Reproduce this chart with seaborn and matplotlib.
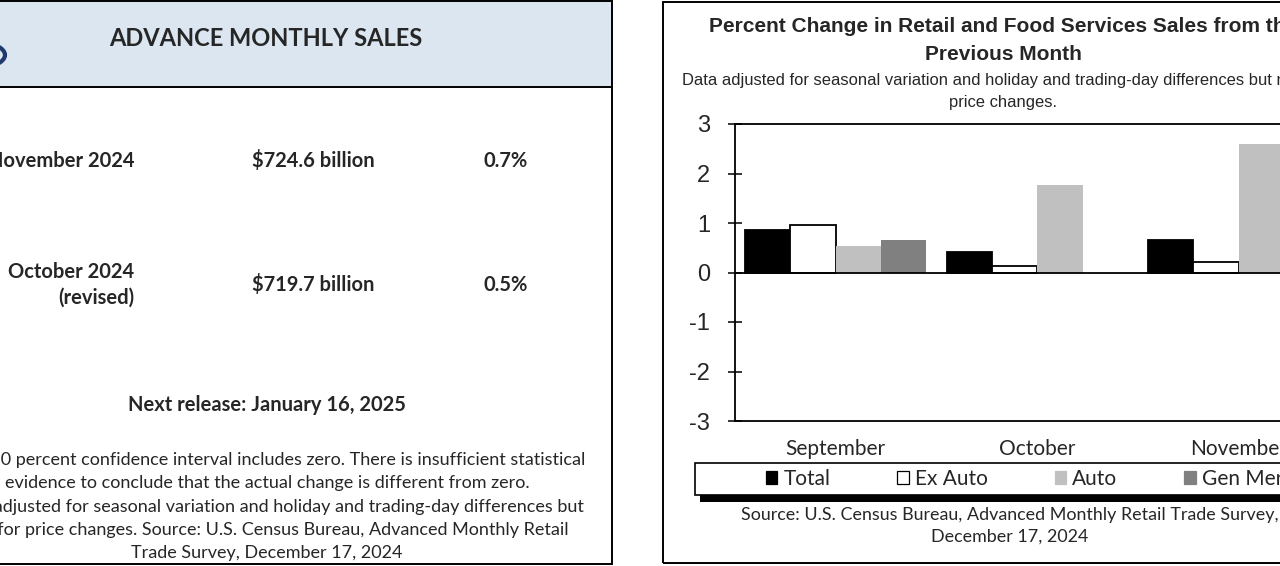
import numpy as np
import pandas as pd
import matplotlib.pyplot as plt
import seaborn as sns
from matplotlib.patches import Rectangle, Circle, Patch

# --- chart data (percent change from previous month) ---
months = ['September', 'October', 'November']
series = ['Total', 'Ex Auto', 'Auto', 'Gen Mer']
total = [0.85, 0.42, 0.66]
ex_auto = [0.95, 0.14, 0.22]
auto = [0.53, 1.77, 2.59]
gen_mer = [0.66, np.nan, -0.2]   # Oct not shown, Nov falls outside the crop
series_colors = ['black', 'white', '#c0c0c0', '#808080']
yticks = [-3, -2, -1, 0, 1, 2, 3]

# --- summary box text ---
box_title = 'ADVANCE MONTHLY SALES'
row_labels = ['November 2024', 'October 2024\n(revised)']
row_sales = ['$724.6 billion', '$719.7 billion']
row_pct = ['0.7%', '0.5%']
next_release = 'Next release: January 16, 2025'
footnote = [
    '*The 90 percent confidence interval includes zero. There is insufficient statistical',
    'evidence to conclude that the actual change is different from zero.',
    'Data adjusted for seasonal variation and holiday and trading-day differences but',
    'not for price changes. Source: U.S. Census Bureau, Advanced Monthly Retail',
    'Trade Survey, December 17, 2024',
]
chart_title = ['Percent Change in Retail and Food Services Sales from the', 'Previous Month']
chart_sub = ['Data adjusted for seasonal variation and holiday and trading-day differences but not for',
             'price changes.']
source = ['Source: U.S. Census Bureau, Advanced Monthly Retail Trade Survey,', 'December 17, 2024']

W, H = 1280, 566


def fx(x):
    return x / W


def fy(y):
    return 1 - y / H


sns.set_style('white')
plt.rcParams['font.family'] = ['Lato', 'DejaVu Sans']

fig = plt.figure(figsize=(W / 100, H / 100), dpi=100)
fig.patch.set_facecolor('white')

# ---------------- left summary panel ----------------
fig.add_artist(Rectangle((fx(-5), fy(87)), fx(617), 86 / H, transform=fig.transFigure,
                         facecolor='#dce6f1', edgecolor='none', zorder=0))
fig.add_artist(Rectangle((fx(-5), fy(564)), fx(617), 563 / H, transform=fig.transFigure,
                         facecolor='none', edgecolor='black', lw=1.4, zorder=2))
fig.add_artist(plt.Line2D([fx(-5), fx(612)], [fy(87), fy(87)], transform=fig.transFigure,
                          color='black', lw=1.4))
fig.add_artist(Circle((fx(-26), fy(55)), fx(31), transform=fig.transFigure,
                      facecolor='#dce6f1', edgecolor='#1f3a6e', lw=3))

fig.text(fx(266), fy(38), box_title, ha='center', va='center', fontsize=17, weight='bold')
row_y = [161, 285]
for lab, sales, pct, y in zip(row_labels, row_sales, row_pct, row_y):
    fig.text(fx(134), fy(y), lab, ha='right', va='center', fontsize=14.5, weight='bold',
             linespacing=1.38, multialignment='right')
    fig.text(fx(313), fy(y), sales, ha='center', va='center', fontsize=14.5, weight='bold')
    fig.text(fx(506), fy(y), pct, ha='center', va='center', fontsize=14.5, weight='bold')
fig.text(fx(267), fy(405), next_release, ha='center', va='center', fontsize=14.5, weight='bold')
for i, line in enumerate(footnote):
    fig.text(fx(267), fy(460 + i * 23.3), line, ha='center', va='center', fontsize=13)

# ---------------- right chart panel ----------------
fig.add_artist(Rectangle((fx(663), fy(563)), fx(700), 561 / H, transform=fig.transFigure,
                         facecolor='none', edgecolor='black', lw=1.4, zorder=2))
arial = 'Liberation Sans'
for i, line in enumerate(chart_title):
    fig.text(fx(1003), fy(27 + i * 28), line, ha='center', va='center', fontsize=15,
             weight='bold', family=arial)
for i, line in enumerate(chart_sub):
    fig.text(fx(1003), fy(81 + i * 22), line, ha='center', va='center', fontsize=11.9,
             family=arial)

ax = fig.add_axes([fx(735), fy(421), (1339.5 - 735) / W, (421 - 124) / H])

rows = []
for s, vals in zip(series, [total, ex_auto, auto, gen_mer]):
    for m, v in zip(months, vals):
        rows.append({'Month': m, 'Series': s, 'Change': v})
df = pd.DataFrame(rows).dropna()

sns.barplot(data=df, x='Month', y='Change', hue='Series', order=months, hue_order=series,
            palette=dict(zip(series, series_colors)), saturation=1, width=0.9,
            errorbar=None, legend=False, linewidth=0, ax=ax)
for cont, s in zip(ax.containers, series):
    for bar in cont:
        if s in ('Total', 'Ex Auto'):
            bar.set_edgecolor('black')
            bar.set_linewidth(1.3)
        else:
            bar.set_edgecolor('none')

ax.axhline(0, color='black', lw=1.3, zorder=5)
ax.set_xlim(-0.5, 2.5)
ax.set_ylim(-3, 3)
ax.set_yticks(yticks)
ax.set_yticklabels([str(t) for t in yticks], family=arial)
ax.set_xlabel('')
ax.set_ylabel('')
ax.tick_params(axis='y', direction='inout', length=10, width=1.1, pad=13, labelsize=17,
               left=True, color='black')
ax.tick_params(axis='x', length=0, pad=13, labelsize=15)
for sp in ax.spines.values():
    sp.set_visible(True)
    sp.set_color('black')
    sp.set_linewidth(1.3)

# legend box with drop shadow
fig.add_artist(Rectangle((fx(700), fy(502)), fx(660), 33 / H, transform=fig.transFigure,
                         facecolor='black', edgecolor='none', zorder=3))
fig.add_artist(Rectangle((fx(695), fy(495)), fx(660), 32 / H, transform=fig.transFigure,
                         facecolor='white', edgecolor='black', lw=1.2, zorder=4))
handles = [Patch(facecolor=c, edgecolor='black' if c in ('black', 'white') else c, lw=0.9)
           for c in series_colors]
leg = fig.legend(handles, series, ncol=4, frameon=False, loc='center left',
                 bbox_to_anchor=(fx(766), fy(479)), borderpad=0, borderaxespad=0,
                 handlelength=0.55, handleheight=0.55, handletextpad=0.3,
                 columnspacing=3.2, fontsize=15)
leg.set_zorder(6)

for i, line in enumerate(source):
    fig.text(fx(1010), fy(515 + i * 22), line, ha='center', va='center', fontsize=12.9)

fig.savefig('out.png', dpi=100, facecolor='white')
